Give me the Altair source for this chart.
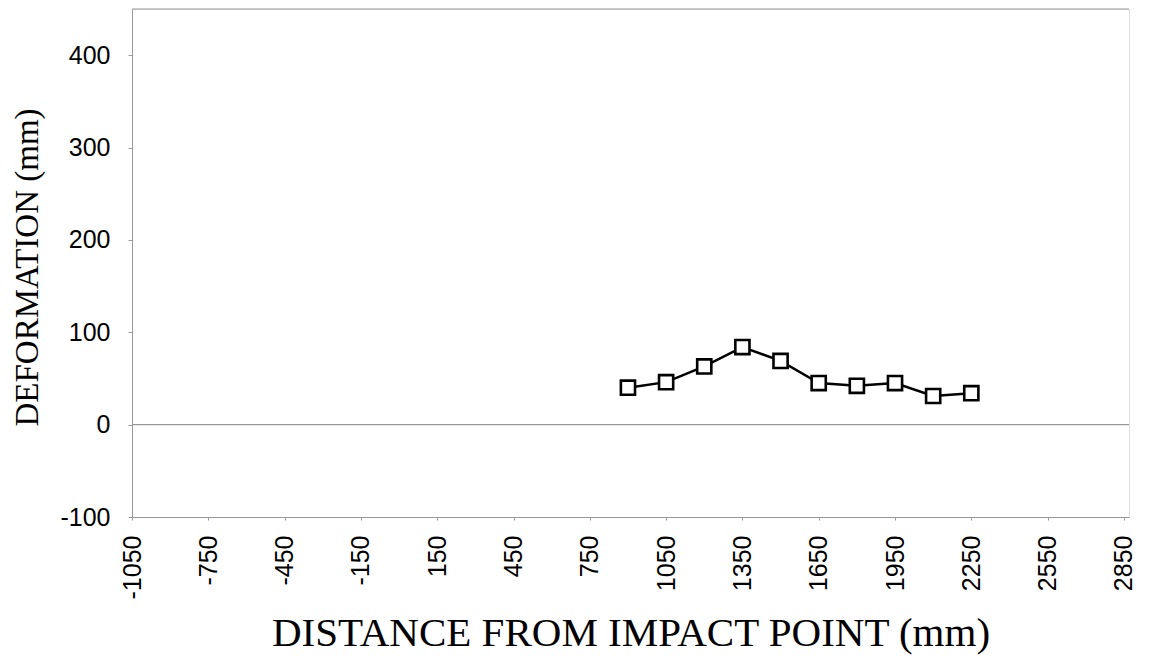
import altair as alt
import pandas as pd

distance = [900, 1050, 1200, 1350, 1500, 1650, 1800, 1950, 2100, 2250]
deformation = [40, 46, 63, 84, 69, 45, 42, 45, 31, 34]
x_ticks = [-1050, -750, -450, -150, 150, 450, 750, 1050, 1350, 1650, 1950, 2250, 2550, 2850]
y_ticks = [-100, 0, 100, 200, 300, 400]
x_domain = [-1050, 2870]
y_domain = [-100, 450]
ref_lines = [0, 450]

df = pd.DataFrame({"x": distance, "y": deformation})
rules_df = pd.DataFrame({"y": ref_lines})

GRAY = "#999999"

xs = alt.Scale(domain=x_domain, nice=False, zero=False)
ys = alt.Scale(domain=y_domain, nice=False, zero=False)

x_axis = alt.Axis(
    values=x_ticks, labelAngle=270, labelAlign="right", labelBaseline="middle",
    labelExpr="'' + datum.value",
    labelFont="Liberation Sans", labelFontSize=25, labelColor="black",
    labelPadding=15, tickSize=3, tickColor=GRAY, domainColor=GRAY,
    grid=False, title="DISTANCE FROM IMPACT POINT (mm)",
    titleFont="Liberation Serif", titleFontSize=41, titleFontWeight="normal",
    titleColor="black", titleY=116, titleBaseline="middle", titleAlign="center",
    labelFlush=False, labelOverlap=False,
)
y_axis = alt.Axis(
    values=y_ticks, labelExpr="'' + datum.value",
    labelFont="Liberation Sans", labelFontSize=25,
    labelColor="black", labelPadding=18, tickSize=4, tickColor=GRAY,
    domainColor=GRAY, grid=False, title="DEFORMATION (mm)",
    titleFont="Liberation Serif", titleFontSize=33, titleFontWeight="normal",
    titleColor="black", titleX=-105, titleY=258, titleBaseline="middle",
    titleAlign="center", labelFlush=False,
)

rules = alt.Chart(rules_df).mark_rule(color=GRAY, strokeWidth=1.2).encode(
    y=alt.Y("y:Q", scale=ys, axis=y_axis)
)

line = alt.Chart(df).mark_line(color="black", strokeWidth=2.5).encode(
    x=alt.X("x:Q", scale=xs, axis=x_axis),
    y=alt.Y("y:Q", scale=ys, axis=y_axis),
)
points = alt.Chart(df).mark_point(
    shape="square", filled=True, fill="white", stroke="black",
    strokeWidth=2.6, size=200, opacity=1
).encode(
    x=alt.X("x:Q", scale=xs, axis=x_axis),
    y=alt.Y("y:Q", scale=ys, axis=y_axis),
)

chart = alt.layer(rules, line, points).properties(
    width=997, height=508,
    autosize=alt.AutoSizeParams(type="none"),
    padding={"left": 124, "top": 1, "right": 20, "bottom": 140},
).configure_view(stroke=None).configure(background="white")

chart.save("out.html", embed_options={"renderer": "svg", "actions": False})
